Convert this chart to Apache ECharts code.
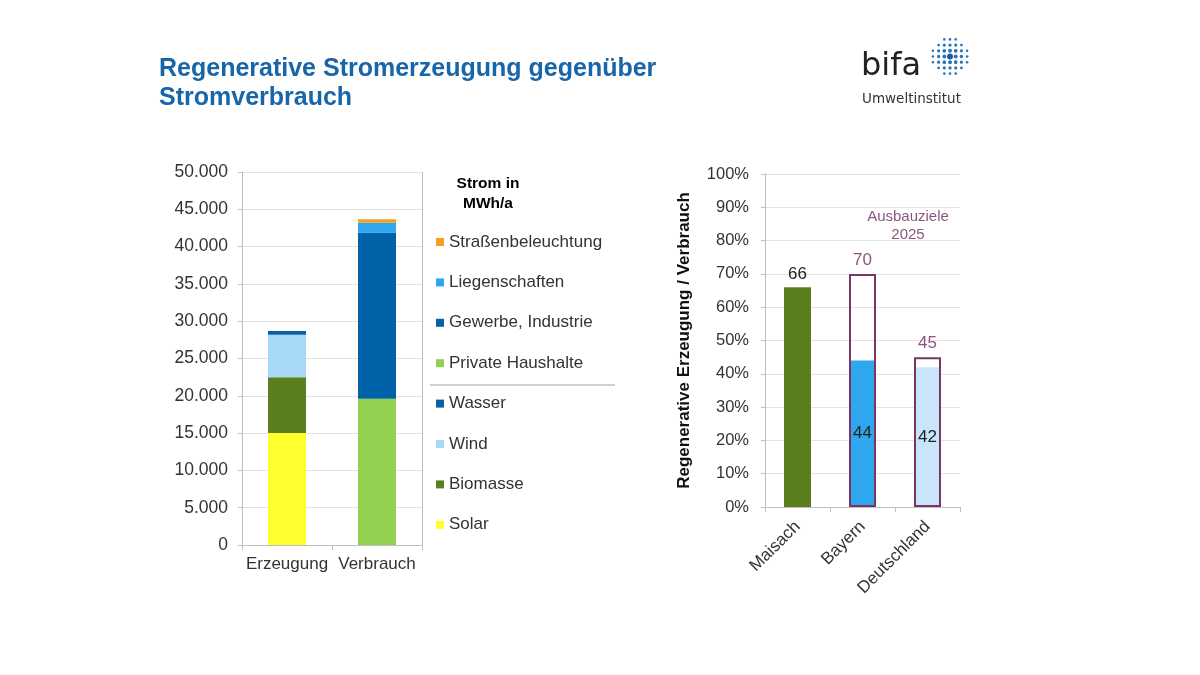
<!DOCTYPE html>
<html>
<head>
<meta charset="utf-8">
<script src="https://cdn.jsdelivr.net/npm/echarts@6/dist/echarts.min.js"></script>
<style>
html,body{margin:0;padding:0;background:#fff;}
#chart{width:1200px;height:675px;}
</style>
</head>
<body>
<div id="chart"></div>
<script>
// ---- Data: left chart (MWh/a) ----
const leftCategories = ['Erzeugung', 'Verbrauch'];
const solar = [15000, null];
const biomasse = [7500, null];
const wind = [5700, null];
const wasser = [500, null];
const privateHaushalte = [null, 19600];
const gewerbe = [null, 22300];
const liegenschaften = [null, 1300];
const strassen = [null, 450];
const leftTicks = [0, 5000, 10000, 15000, 20000, 25000, 30000, 35000, 40000, 45000, 50000];

// ---- Data: right chart (%) ----
const rightCategories = ['Maisach', 'Bayern', 'Deutschland'];
const istWerte = [66, 44, 42];
const zielWerte = [null, 70, 45];

const FONT = '"Liberation Sans", Arial, sans-serif';
const AXIS = '#bfbfbf';
const GRID = '#e3e3e3';
const TXT = '#333333';
const PURPLE = '#7a3466';
const PURPLE_TXT = '#8a5680';

const colors = {
  'Solar': '#ffff2e',
  'Biomasse': '#5b7f1e',
  'Wind': '#a8d8f8',
  'Wasser': '#0b5fa5',
  'Private Haushalte': '#92d050',
  'Gewerbe, Industrie': '#0062a8',
  'Liegenschaften': '#2ea7ef',
  'Straßenbeleuchtung': '#f5a020'
};

function toData(arr){ return arr.map(v => v == null ? '-' : v); }

function leftSeries(name, arr){
  return {
    name: name, type: 'bar', stack: 'strom', xAxisIndex: 0, yAxisIndex: 0,
    barWidth: 38, data: toData(arr),
    itemStyle: { color: colors[name] },
    emphasis: { disabled: true }
  };
}

const istColors = ['#5b7f1e', '#2ea7ef', '#c8e5fa'];
const istData = istWerte.map((v, i) => ({
  value: v,
  itemStyle: { color: istColors[i] },
  label: i === 0 ? { position: 'top', distance: 4 } : { position: 'inside' }
}));

// Logo dots (decoration)
const dots = [];
const cx = 950, cy = 56.5, step = 5.7;
for (let r = -3; r <= 3; r++) {
  for (let c = -3; c <= 3; c++) {
    const d = Math.sqrt(r*r + c*c);
    if (d > 3.4) continue;
    const rad = d < 0.5 ? 3.0 : Math.max(1.2, 2.3 - 0.32 * d);
    dots.push({ type: 'circle', shape: { cx: cx + c*step, cy: cy + r*step, r: rad },
      style: { fill: d < 0.5 ? '#1a5c9c' : '#2a73b5' }, silent: true });
  }
}

const chart = echarts.init(document.getElementById('chart'), null, { renderer: 'canvas' });
chart.setOption({
  backgroundColor: '#ffffff',
  animation: false,
  textStyle: { fontFamily: FONT },
  grid: [
    { left: 242, top: 172, width: 180, height: 373 },
    { left: 765, top: 174, width: 195, height: 333 }
  ],
  legend: {
    orient: 'vertical', left: 436, top: 232, padding: 0,
    itemWidth: 8, itemHeight: 8, itemGap: 20.4, icon: 'rect',
    selectedMode: false,
    textStyle: { fontFamily: FONT, fontSize: 17, color: TXT, lineHeight: 20 },
    data: ['Straßenbeleuchtung', 'Liegenschaften', 'Gewerbe, Industrie', 'Private Haushalte',
           'Wasser', 'Wind', 'Biomasse', 'Solar']
  },
  xAxis: [
    { type: 'category', gridIndex: 0, data: leftCategories,
      axisLine: { lineStyle: { color: AXIS } },
      axisTick: { show: true, length: 5, lineStyle: { color: AXIS } },
      axisLabel: { fontSize: 17, color: TXT, margin: 11, fontFamily: FONT, interval: 0, hideOverlap: false } },
    { type: 'category', gridIndex: 1, data: rightCategories,
      axisLine: { lineStyle: { color: AXIS } },
      axisTick: { show: true, length: 5, lineStyle: { color: AXIS } },
      axisLabel: { fontSize: 17, color: TXT, rotate: 45, margin: 17, fontFamily: FONT, interval: 0 } }
  ],
  yAxis: [
    { type: 'value', gridIndex: 0, min: 0, max: 50000, interval: 5000,
      axisLine: { show: true, lineStyle: { color: AXIS } },
      axisTick: { show: true, length: 4, lineStyle: { color: AXIS } },
      splitLine: { lineStyle: { color: GRID } },
      axisLabel: { fontSize: 17.5, color: TXT, margin: 14, fontFamily: FONT,
        formatter: v => v === 0 ? '0' : v.toLocaleString('de-DE') } },
    { type: 'value', gridIndex: 0, position: 'right', min: 0, max: 50000, interval: 5000,
      axisLine: { show: true, lineStyle: { color: AXIS } },
      axisTick: { show: false }, axisLabel: { show: false }, splitLine: { show: false } },
    { type: 'value', gridIndex: 1, min: 0, max: 100, interval: 10,
      axisLine: { show: true, lineStyle: { color: AXIS } },
      axisTick: { show: true, length: 4, lineStyle: { color: AXIS } },
      splitLine: { lineStyle: { color: GRID } },
      axisLabel: { fontSize: 16.5, color: TXT, margin: 16, fontFamily: FONT, formatter: '{value}%' },
      name: 'Regenerative Erzeugung / Verbrauch', nameLocation: 'middle', nameGap: 72,
      nameRotate: 90,
      nameTextStyle: { fontSize: 17, fontWeight: 'bold', color: '#111', fontFamily: FONT } }
  ],
  series: [
    leftSeries('Solar', solar),
    leftSeries('Biomasse', biomasse),
    leftSeries('Wind', wind),
    leftSeries('Wasser', wasser),
    leftSeries('Private Haushalte', privateHaushalte),
    leftSeries('Gewerbe, Industrie', gewerbe),
    leftSeries('Liegenschaften', liegenschaften),
    leftSeries('Straßenbeleuchtung', strassen),
    {
      name: 'Ist', type: 'bar', xAxisIndex: 1, yAxisIndex: 2, barWidth: 27, barGap: '-100%',
      data: istData,
      label: { show: true, fontSize: 17, color: '#222', fontFamily: FONT },
      emphasis: { disabled: true }
    },
    {
      name: 'Ziel', type: 'bar', xAxisIndex: 1, yAxisIndex: 2, barWidth: 27, barGap: '-100%',
      data: toData(zielWerte),
      itemStyle: { color: 'rgba(0,0,0,0)', borderColor: PURPLE, borderWidth: 2 },
      label: { show: true, position: 'top', distance: 5, fontSize: 17, color: PURPLE_TXT, fontFamily: FONT },
      emphasis: { disabled: true }
    }
  ],
  graphic: [
    { type: 'text', left: 159, top: 55, silent: true,
      style: { text: 'Regenerative Stromerzeugung gegenüber\nStromverbrauch',
        font: '900 25px ' + FONT, fill: '#1866aa', lineHeight: 29 } },
    { type: 'text', left: 861, top: 51, silent: true,
      style: { text: 'bifa', font: '32px "DejaVu Sans", sans-serif', fill: '#222' } },
    { type: 'text', left: 862, top: 92, silent: true,
      style: { text: 'Umweltinstitut', font: '13.5px "DejaVu Sans", sans-serif', fill: '#333' } },
    ...dots,
    { type: 'text', x: 488, y: 174, silent: true,
      style: { text: 'Strom in\nMWh/a', font: 'bold 15.5px ' + FONT, fill: '#000',
        textAlign: 'center', lineHeight: 20 } },
    { type: 'line', silent: true, shape: { x1: 430, y1: 385, x2: 615, y2: 385 },
      style: { stroke: '#a0a0a0', lineWidth: 1 } },
    { type: 'text', x: 908, y: 208, silent: true,
      style: { text: 'Ausbauziele\n2025', font: '15px ' + FONT, fill: PURPLE_TXT,
        textAlign: 'center', lineHeight: 18 } }
  ]
});
</script>
</body>
</html>
